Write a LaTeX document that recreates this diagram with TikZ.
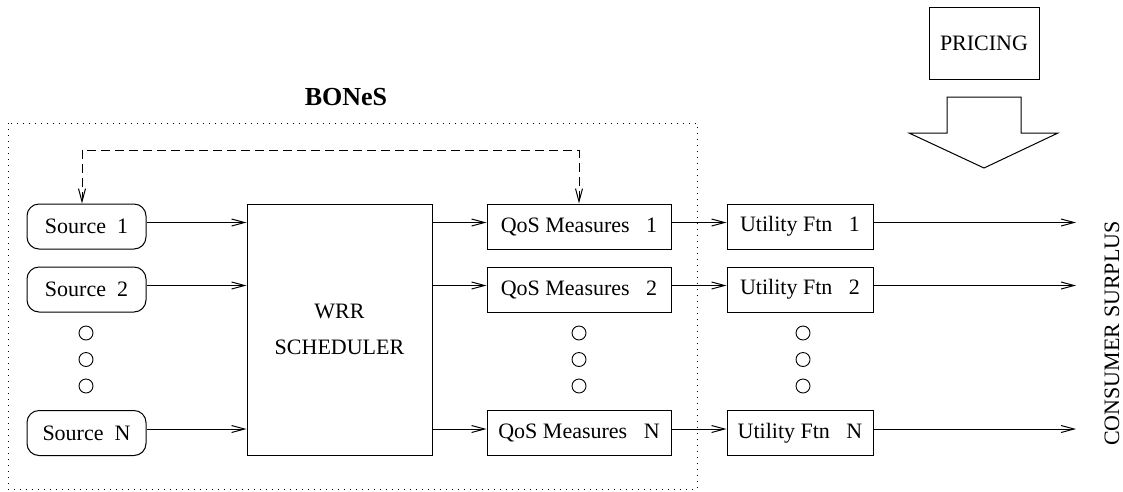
\documentclass[tikz,border=0pt]{standalone}
\usepackage{fontspec}
\setmainfont{Liberation Serif}
\newfontfamily\labelfont{Liberation Serif}
\usetikzlibrary{arrows.meta,calc}

\begin{document}
\begin{tikzpicture}[x=1pt,y=-1pt,
  line width=1pt,
  every node/.style={font=\labelfont\fontsize{22}{36}\selectfont, inner sep=0pt},
  srcbox/.style={draw, rounded corners=12pt, minimum width=119pt, minimum height=45pt},
  qosbox/.style={draw, minimum width=184pt, minimum height=45pt},
  utilbox/.style={draw, minimum width=146pt, minimum height=45pt},
  dotmark/.style={draw, circle, minimum size=14pt, line width=0.9pt},
  flow/.style={-{Straight Barb[length=13pt,width=7pt,line width=1pt]}},
  feedback/.style={dash pattern=on 9pt off 5pt,
    {Straight Barb[length=13pt,width=7pt,line width=1pt]}-{Straight Barb[length=13pt,width=7pt,line width=1pt]}},
  lift/.style={yshift=4pt}
]
\useasboundingbox (0,0) rectangle (1123,491);

% simulator boundary
\draw[line width=0.9pt, dash pattern=on 1.2pt off 4.8pt] (8,123) rectangle (697,489);
\node[font=\labelfont\fontsize{26}{30}\selectfont\bfseries] (bones) at (346,97) {BONeS};

% traffic sources
\node[srcbox] (s1) at (86.5,226.5) {Source\ \ 1};
\node[srcbox] (s2) at (86.5,289.5) {Source\ \ 2};
\node[srcbox] (sn) at (86.5,433) {Source\ \ N};
\node[dotmark] (sd1) at (86,333) {};
\node[dotmark] (sd2) at (86,359.5) {};
\node[dotmark] (sd3) at (86,386) {};

% scheduler
\node[draw, minimum width=185pt, minimum height=251pt, align=center] (sched) at (339.5,329.5)
  {WRR\\SCHEDULER};

% QoS measurement blocks
\node[qosbox] (q1) at (579,226.5) {QoS Measures\ \ \ 1};
\node[qosbox] (q2) at (579,289.5) {QoS Measures\ \ \ 2};
\node[qosbox] (qn) at (579,433) {QoS Measures\ \ \ N};
\node[dotmark] (qd1) at (579,333) {};
\node[dotmark] (qd2) at (579,359.5) {};
\node[dotmark] (qd3) at (579,386) {};

% utility functions
\node[utilbox] (u1) at (800,226.5) {Utility Ftn\ \ \ 1};
\node[utilbox] (u2) at (800,289.5) {Utility Ftn\ \ \ 2};
\node[utilbox] (un) at (800,433) {Utility Ftn\ \ \ N};
\node[dotmark] (ud1) at (803,333) {};
\node[dotmark] (ud2) at (803,359.5) {};
\node[dotmark] (ud3) at (803,386) {};

% outputs
\coordinate (o1) at (1076,222.5);
\coordinate (o2) at (1076,285.5);
\coordinate (on) at (1076,429);
\node[rotate=90] (cs) at (1112,333.5) {CONSUMER SURPLUS};

% pricing input
\node[draw, minimum width=110pt, minimum height=72pt] (pricing) at (984,43) {PRICING};
\draw (947,97) -- (1021,97) -- (1021,133) -- (1058,133) -- (984,168)
      -- (909,133) -- (947,133) -- cycle;

% data flow
\foreach \a/\b in {s1/sched, s2/sched, sn/sched}
  \draw[flow] ([lift]\a.east) -- ([lift]\a.east -| \b.west);
\foreach \a in {1,2,n}
  \draw[flow] ([lift]q\a.west -| sched.east) -- ([lift]q\a.west);
\foreach \a in {1,2,n}
  \draw[flow] ([lift]q\a.east) -- ([lift]u\a.west);
\draw[flow] ([lift]u1.east) -- (o1);
\draw[flow] ([lift]u2.east) -- (o2);
\draw[flow] ([lift]un.east) -- (on);

% feedback loop
\draw[feedback] ([xshift=-4.5pt]s1.north) -- ++(0,-53) -| (q1.north);
\end{tikzpicture}
\end{document}
